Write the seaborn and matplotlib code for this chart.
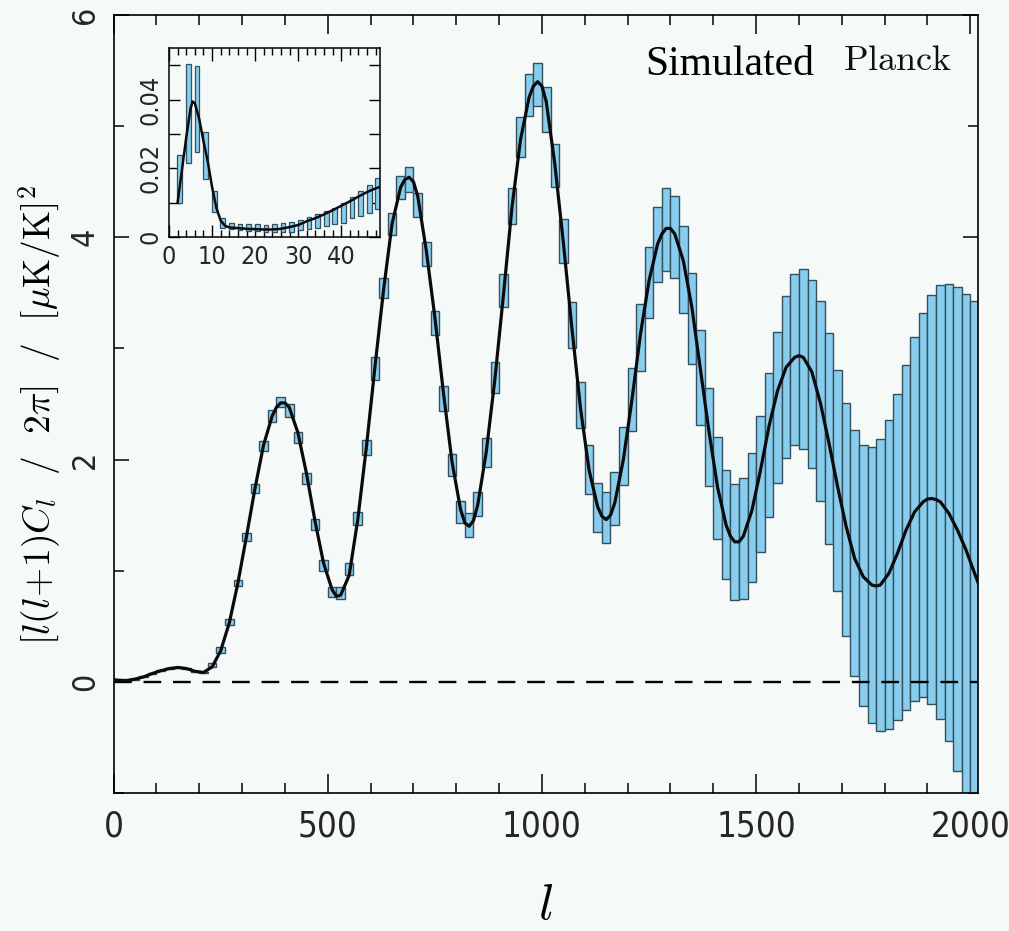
import numpy as np
import pandas as pd
import matplotlib
matplotlib.use("Agg")
import matplotlib.pyplot as plt
import seaborn as sns
from matplotlib import font_manager
from matplotlib.ticker import MultipleLocator, FixedLocator, FuncFormatter

# ---------------- data ----------------
ell_bins = [10, 30, 50, 70, 90, 110, 130, 150, 170, 190,
            210, 230, 250, 270, 290, 310, 330, 350, 370, 390,
            410, 430, 450, 470, 490, 510, 530, 550, 570, 590,
            610, 630, 650, 670, 690, 710, 730, 750, 770, 790,
            810, 830, 850, 870, 890, 910, 930, 950, 970, 990,
            1010, 1030, 1050, 1070, 1090, 1110, 1130, 1150, 1170, 1190,
            1210, 1230, 1250, 1270, 1290, 1310, 1330, 1350, 1370, 1390,
            1410, 1430, 1450, 1470, 1490, 1510, 1530, 1550, 1570, 1590,
            1610, 1630, 1650, 1670, 1690, 1710, 1730, 1750, 1770, 1790,
            1810, 1830, 1850, 1870, 1890, 1910, 1930, 1950, 1970, 1990,
            2010]

band_center = [0.015, 0.01, 0.025, 0.045, 0.075, 0.10, 0.12, 0.13, 0.12, 0.095,
               0.085, 0.155, 0.29, 0.54, 0.89, 1.306, 1.74, 2.12, 2.395, 2.52,
               2.44, 2.20, 1.83, 1.414, 1.05, 0.81, 0.80, 1.015, 1.47, 2.11,
               2.82, 3.54, 4.12, 4.45, 4.52, 4.29, 3.85, 3.23, 2.55, 1.95,
               1.53, 1.41, 1.60, 2.06, 2.74, 3.52, 4.28, 4.90, 5.28, 5.375,
               5.15, 4.645, 3.965, 3.21, 2.49, 1.91, 1.57, 1.48, 1.65, 2.03,
               2.54, 3.10, 3.59, 3.935, 4.07, 4.00, 3.71, 3.27, 2.74, 2.20,
               1.745, 1.42, 1.26, 1.29, 1.48, 1.78, 2.13, 2.47, 2.74, 2.90,
               2.905, 2.77, 2.53, 2.19, 1.815, 1.46, 1.16, 0.957, 0.87, 0.871,
               0.965, 1.125, 1.30, 1.466, 1.59, 1.64, 1.62, 1.526, 1.375, 1.19,
               1.00]

band_halfwidth = [0.004, 0.004, 0.004, 0.004, 0.005, 0.005, 0.005, 0.005, 0.005, 0.005,
                  0.006, 0.018, 0.026, 0.026, 0.027, 0.036, 0.039, 0.044, 0.055, 0.045,
                  0.057, 0.052, 0.050, 0.048, 0.048, 0.045, 0.050, 0.052, 0.060, 0.067,
                  0.10, 0.09, 0.10, 0.105, 0.11, 0.11, 0.11, 0.11, 0.11, 0.10,
                  0.097, 0.11, 0.11, 0.13, 0.14, 0.15, 0.16, 0.18, 0.19, 0.19,
                  0.20, 0.195, 0.20, 0.21, 0.21, 0.22, 0.22, 0.23, 0.24, 0.26,
                  0.28, 0.30, 0.32, 0.34, 0.37, 0.37, 0.39, 0.41, 0.43, 0.44,
                  0.46, 0.49, 0.52, 0.54, 0.58, 0.61, 0.65, 0.68, 0.73, 0.77,
                  0.81, 0.85, 0.90, 0.95, 0.995, 1.05, 1.11, 1.173, 1.24, 1.31,
                  1.39, 1.465, 1.55, 1.634, 1.73, 1.84, 1.95, 2.054, 2.175, 2.30,
                  2.43]

theory_ell = [0, 10, 30, 50, 70, 90, 110, 130, 150, 170, 190,
              210, 230, 250, 270, 290, 310, 330, 350, 370, 380, 390, 400,
              410, 430, 450, 470, 490, 510, 520, 530, 550, 570, 590,
              610, 630, 650, 670, 680, 690, 700, 710, 730, 750, 770, 790,
              810, 820, 830, 840, 850, 870, 890, 910, 930, 950, 970, 980, 990, 1000,
              1010, 1030, 1050, 1070, 1090, 1110, 1130, 1140, 1150, 1160, 1170, 1190,
              1210, 1230, 1250, 1270, 1280, 1290, 1300, 1310, 1330, 1350, 1370, 1390,
              1410, 1430, 1440, 1450, 1460, 1470, 1490, 1510, 1530, 1550, 1570, 1590, 1600,
              1610, 1630, 1650, 1670, 1690, 1710, 1730, 1750, 1770, 1780, 1790,
              1810, 1830, 1850, 1870, 1890, 1900, 1910, 1920, 1930, 1950, 1970, 1990,
              2010, 2030]

theory_dl = [0.02, 0.015, 0.012, 0.025, 0.045, 0.075, 0.10, 0.12, 0.13, 0.12, 0.095,
             0.085, 0.135, 0.28, 0.53, 0.887, 1.306, 1.74, 2.13, 2.39, 2.47, 2.51, 2.51,
             2.47, 2.245, 1.88, 1.45, 1.07, 0.83, 0.77, 0.78, 0.96, 1.46, 2.11,
             2.83, 3.52, 4.12, 4.45, 4.52, 4.54, 4.50, 4.37, 3.88, 3.28, 2.60, 1.98,
             1.55, 1.43, 1.40, 1.45, 1.59, 2.07, 2.72, 3.48, 4.27, 4.88, 5.26, 5.36, 5.40, 5.36,
             5.22, 4.66, 3.95, 3.18, 2.46, 1.905, 1.575, 1.49, 1.46, 1.50, 1.61, 2.00,
             2.535, 3.13, 3.61, 3.94, 4.03, 4.08, 4.08, 4.03, 3.79, 3.37, 2.81, 2.25,
             1.75, 1.41, 1.31, 1.26, 1.26, 1.31, 1.54, 1.90, 2.30, 2.62, 2.83, 2.92, 2.935,
             2.92, 2.79, 2.51, 2.15, 1.76, 1.40, 1.11, 0.946, 0.872, 0.862, 0.872,
             0.977, 1.157, 1.366, 1.53, 1.62, 1.645, 1.65, 1.64, 1.62, 1.516, 1.366, 1.186,
             0.977, 0.77]

# inset (low multipoles)
inset_bins = [2.5, 4.5, 6.5, 8.5, 10.5, 12.5, 14.5, 16.5, 18.5, 20.5, 22.5, 24.5,
              26.5, 28.5, 30.5, 32.5, 34.5, 36.5, 38.5, 40.5, 42.5, 44.5, 46.5, 48.5]
inset_center = [0.0168, 0.036, 0.0373, 0.0238, 0.0103, 0.0040, 0.0031, 0.0030,
                0.0028, 0.0027, 0.0025, 0.0027, 0.0028, 0.0030, 0.0035, 0.0041,
                0.0047, 0.0054, 0.0061, 0.0070, 0.0086, 0.0097, 0.0111, 0.0127]
inset_halfwidth = [0.0070, 0.0145, 0.0125, 0.0068, 0.0030, 0.0015, 0.0009, 0.0009,
                   0.0010, 0.0010, 0.0011, 0.0012, 0.0013, 0.0015, 0.0015, 0.0018,
                   0.0020, 0.0022, 0.0024, 0.0029, 0.0031, 0.0036, 0.0041, 0.0044]
inset_theory_ell = [2, 3, 4, 5, 5.5, 6, 7, 8, 9, 10, 11, 12, 13, 14, 16, 18, 20, 22,
                    24, 26, 28, 30, 32, 34, 36, 38, 40, 42, 44, 46, 48, 49]
inset_theory_dl = [0.0100, 0.0195, 0.0290, 0.0375, 0.0395, 0.0390, 0.0345, 0.0280,
                   0.0220, 0.0146, 0.0085, 0.0048, 0.0033, 0.0028, 0.0026, 0.0024,
                   0.0023, 0.0022, 0.0022, 0.0024, 0.0029, 0.0035, 0.0046, 0.0055,
                   0.0066, 0.0078, 0.0091, 0.0104, 0.0118, 0.0131, 0.0142, 0.0146]

x_ticks_main = [0, 500, 1000, 1500, 2000]
y_ticks_main = [0, 2, 4, 6]

# ---------------- style ----------------
BG = "#f5f9f7"
BOX = "#88cdee"
EDGE = "#33505e"

sns.set_theme(style="ticks")
avail = {f.name for f in font_manager.fontManager.ttflist}
if "Liberation Sans Narrow" in avail:
    tick_family = "Liberation Sans Narrow"
    plt.rcParams["font.stretch"] = "normal"
else:
    tick_family = "DejaVu Sans"
    plt.rcParams["font.stretch"] = "condensed"
plt.rcParams["font.family"] = [tick_family, "DejaVu Sans"]
plt.rcParams["mathtext.fontset"] = "cm"
plt.rcParams["axes.linewidth"] = 1.2
plt.rcParams["axes.edgecolor"] = "black"

fig = plt.figure(figsize=(10.09, 9.31), dpi=100, facecolor=BG)

# ---------------- main axes ----------------
ax = fig.add_axes([0.1126, 0.1482, 0.8567, 0.8357])
ax.set_facecolor(BG)

c = np.array(band_center)
h = np.array(band_halfwidth)
ax.bar(ell_bins, 2 * h, bottom=c - h, width=20, color=BOX, edgecolor=EDGE,
       linewidth=1.0, zorder=2)
ax.axhline(0, color="black", lw=1.7, dashes=(7.5, 5.0), zorder=3)
df_th = pd.DataFrame({"ell": theory_ell, "dl": theory_dl})
sns.lineplot(data=df_th, x="ell", y="dl", ax=ax, color="#0b0b0b", lw=2.3,
             zorder=4, sort=False, estimator=None)

ax.set_xlim(0, 2018)
ax.set_ylim(-1, 6)
ax.set_xlabel("")
ax.set_ylabel("")
ax.xaxis.set_major_locator(FixedLocator(x_ticks_main))
ax.xaxis.set_minor_locator(MultipleLocator(100))
ax.yaxis.set_major_locator(FixedLocator(y_ticks_main))
ax.yaxis.set_minor_locator(MultipleLocator(1))
ax.tick_params(which="both", direction="in", top=True, right=True,
               color="black", width=1.1)
ax.tick_params(axis="x", which="major", length=14, labelsize=25, pad=12)
ax.tick_params(axis="x", which="minor", length=7)
ax.tick_params(axis="y", which="major", length=11, labelsize=23, pad=9)
ax.tick_params(axis="y", which="minor", length=7)
for lab in ax.get_yticklabels():
    lab.set_rotation(90)
    lab.set_va("center")
for sp in ax.spines.values():
    sp.set_visible(True)
    sp.set_linewidth(1.2)
    sp.set_color("black")

# ---------------- inset ----------------
axin = fig.add_axes([0.1675, 0.7454, 0.2091, 0.2027])
axin.set_facecolor(BG)
ci = np.array(inset_center)
hi = np.array(inset_halfwidth)
axin.bar(inset_bins, 2 * hi, bottom=ci - hi, width=1.1, color=BOX,
         edgecolor=EDGE, linewidth=0.9, zorder=2)
df_in = pd.DataFrame({"ell": inset_theory_ell, "dl": inset_theory_dl})
sns.lineplot(data=df_in, x="ell", y="dl", ax=axin, color="#0b0b0b", lw=1.8,
             zorder=4, sort=False, estimator=None)
axin.set_xlim(0, 49)
axin.set_ylim(0, 0.055)
axin.set_xlabel("")
axin.set_ylabel("")
axin.xaxis.set_major_locator(MultipleLocator(10))
axin.xaxis.set_minor_locator(MultipleLocator(2))
axin.yaxis.set_major_locator(FixedLocator([0, 0.02, 0.04]))
axin.yaxis.set_minor_locator(FixedLocator([0.01, 0.03, 0.05]))
axin.yaxis.set_major_formatter(FuncFormatter(lambda v, _: "0" if v == 0 else f"{v:.2f}"))
axin.tick_params(which="both", direction="in", top=True, right=True,
                 color="black", width=1.0)
axin.tick_params(axis="x", which="major", length=9, labelsize=18, pad=6)
axin.tick_params(axis="x", which="minor", length=5)
axin.tick_params(axis="y", which="both", length=8, labelsize=18, pad=5)
for lab in axin.get_yticklabels():
    lab.set_rotation(90)
    lab.set_va("center")
for sp in axin.spines.values():
    sp.set_visible(True)
    sp.set_linewidth(1.1)
    sp.set_color("black")

# ---------------- texts ----------------
fig.text(645 / 1009, 1 - 75 / 931, "Simulated", family=["Liberation Serif", "DejaVu Serif"],
         fontsize=30, ha="left", va="baseline", color="black")
fig.text(843 / 1009, 1 - 70 / 931, r"$\mathrm{Planck}$", fontsize=26,
         ha="left", va="baseline", color="#111111")
fig.text(40 / 1009, 1 - 415 / 931,
         r"$[l(l\!+\!1)C_l\ \ /\ \ 2\pi]\ \ /\ \ [\mu\mathrm{K/K}]^2$",
         rotation=90, ha="center", va="center", fontsize=27, color="black")
fig.text(546 / 1009, 1 - 905 / 931, r"$l$", fontsize=36, ha="center",
         va="center", color="black")

fig.savefig("out.png", dpi=100, facecolor=BG)
